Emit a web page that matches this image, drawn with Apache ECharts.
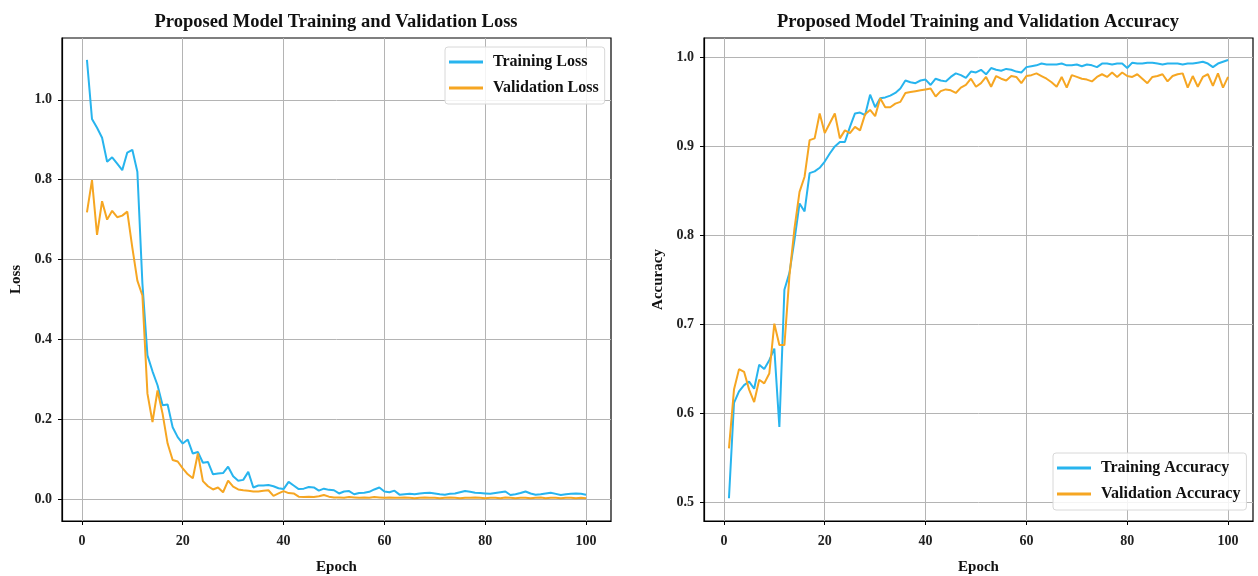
<!DOCTYPE html>
<html>
<head>
<meta charset="utf-8">
<script src="https://cdn.jsdelivr.net/npm/echarts@6/dist/echarts.min.js"></script>
<style>
  html, body { margin: 0; padding: 0; background: #fff; }
  #chart { width: 1258px; height: 576px; }
</style>
</head>
<body>
<div id="chart"></div>
<script>
// values
const epochs = Array.from({ length: 100 }, (_, i) => i + 1)

const trainLoss = [
  1.10, 0.952, 0.93, 0.905, 0.845, 0.856, 0.84, 0.824, 0.868, 0.875,
  0.82, 0.54, 0.36, 0.32, 0.285, 0.235, 0.237, 0.18, 0.155, 0.139,
  0.149, 0.114, 0.118, 0.091, 0.093, 0.062, 0.064, 0.065, 0.081, 0.057,
  0.046, 0.048, 0.068, 0.029, 0.034, 0.034, 0.035, 0.032, 0.027, 0.025,
  0.043, 0.034, 0.025, 0.026, 0.030, 0.029, 0.021, 0.026, 0.023, 0.022,
  0.014, 0.019, 0.020, 0.012, 0.015, 0.016, 0.018, 0.024, 0.029, 0.019,
  0.017, 0.021, 0.011, 0.012, 0.013, 0.012, 0.014, 0.015, 0.016, 0.014,
  0.012, 0.011, 0.013, 0.014, 0.017, 0.020, 0.018, 0.016, 0.015, 0.014,
  0.013, 0.015, 0.017, 0.019, 0.010, 0.012, 0.015, 0.019, 0.014, 0.011,
  0.012, 0.014, 0.016, 0.013, 0.010, 0.012, 0.013, 0.014, 0.013, 0.011
]

const valLoss = [
  0.718, 0.799, 0.662, 0.746, 0.700, 0.722, 0.706, 0.710, 0.720, 0.63,
  0.547, 0.51, 0.264, 0.193, 0.272, 0.214, 0.139, 0.098, 0.094, 0.077,
  0.062, 0.052, 0.114, 0.045, 0.032, 0.024, 0.029, 0.017, 0.046, 0.031,
  0.024, 0.022, 0.021, 0.019, 0.019, 0.021, 0.022, 0.008, 0.014, 0.020,
  0.015, 0.014, 0.006, 0.005, 0.006, 0.005, 0.007, 0.010, 0.006, 0.004,
  0.004, 0.003, 0.005, 0.004, 0.003, 0.004, 0.003, 0.005, 0.004, 0.003,
  0.004, 0.003, 0.003, 0.004, 0.003, 0.002, 0.003, 0.004, 0.003, 0.003,
  0.002, 0.003, 0.004, 0.003, 0.002, 0.003, 0.003, 0.004, 0.003, 0.002,
  0.003, 0.003, 0.002, 0.004, 0.003, 0.002, 0.003, 0.003, 0.002, 0.003,
  0.004, 0.002, 0.003, 0.003, 0.002, 0.003, 0.003, 0.002, 0.003, 0.002
]

const trainAcc = [
  0.505, 0.612, 0.625, 0.632, 0.636, 0.628, 0.655, 0.650, 0.660, 0.673,
  0.585, 0.739, 0.758, 0.795, 0.836, 0.827, 0.870, 0.872, 0.876, 0.883,
  0.892, 0.900, 0.905, 0.905, 0.922, 0.937, 0.938, 0.935, 0.958, 0.944,
  0.954, 0.955, 0.957, 0.960, 0.965, 0.974, 0.972, 0.971, 0.974, 0.975,
  0.969, 0.976, 0.974, 0.973, 0.978, 0.982, 0.980, 0.977, 0.984, 0.983,
  0.986, 0.981, 0.988, 0.986, 0.985, 0.987, 0.986, 0.984, 0.983, 0.989,
  0.990, 0.991, 0.993, 0.992, 0.992, 0.992, 0.993, 0.991, 0.991, 0.992,
  0.990, 0.992, 0.991, 0.989, 0.993, 0.993, 0.992, 0.993, 0.993, 0.988,
  0.994, 0.993, 0.993, 0.994, 0.994, 0.993, 0.992, 0.993, 0.993, 0.993,
  0.992, 0.993, 0.993, 0.994, 0.995, 0.993, 0.989, 0.993, 0.995, 0.997
]

const valAcc = [
  0.561, 0.627, 0.650, 0.647, 0.627, 0.613, 0.638, 0.634, 0.645, 0.701,
  0.677, 0.677, 0.755, 0.808, 0.849, 0.866, 0.907, 0.909, 0.937, 0.915,
  0.926, 0.937, 0.909, 0.918, 0.915, 0.922, 0.918, 0.936, 0.941, 0.934,
  0.954, 0.944, 0.944, 0.948, 0.950, 0.960, 0.961, 0.962, 0.963, 0.964,
  0.965, 0.956, 0.962, 0.964, 0.963, 0.960, 0.966, 0.969, 0.976, 0.967,
  0.971, 0.978, 0.967, 0.979, 0.976, 0.974, 0.979, 0.978, 0.971, 0.979,
  0.980, 0.982, 0.979, 0.976, 0.972, 0.967, 0.978, 0.966, 0.980, 0.978,
  0.976, 0.975, 0.973, 0.978, 0.981, 0.978, 0.983, 0.978, 0.983, 0.979,
  0.978, 0.981, 0.976, 0.971, 0.978, 0.979, 0.981, 0.973, 0.979, 0.981,
  0.982, 0.966, 0.979, 0.967, 0.978, 0.981, 0.968, 0.982, 0.966, 0.978
]

const xTicks = [0, 20, 40, 60, 80, 100]
const lossTicks = [0, 0.2, 0.4, 0.6, 0.8, 1.0]
const accTicks = [0.5, 0.6, 0.7, 0.8, 0.9, 1.0]

const BLUE = '#27b4ee'
const ORANGE = '#f6a622'
const FONT = '"Liberation Serif", "DejaVu Serif", serif'

const pairs = (ys) => epochs.map((x, i) => [x, ys[i]])

const xAxisFor = (gridIndex) => ({
  type: 'value',
  gridIndex,
  min: -3.95,
  max: 104.95,
  name: 'Epoch',
  nameLocation: 'middle',
  nameGap: 39,
  nameTextStyle: { fontFamily: FONT, fontWeight: 'bold', fontSize: 15, color: '#111' },
  axisLine: { show: true, onZero: false, lineStyle: { color: '#000', width: 1.2 } },
  axisTick: { show: true, length: 4, customValues: xTicks, lineStyle: { color: '#000' } },
  axisLabel: {
    customValues: xTicks, margin: 13,
    fontFamily: FONT, fontWeight: 'bold', fontSize: 14, color: '#222'
  },
  splitLine: { show: true, lineStyle: { color: '#b4b4b4', width: 1 } }
})

const yAxisFor = (gridIndex, name, min, max, ticks) => ({
  type: 'value',
  gridIndex,
  min,
  max,
  name,
  nameLocation: 'middle',
  nameGap: 38,
  nameTextStyle: { fontFamily: FONT, fontWeight: 'bold', fontSize: 15, color: '#111' },
  axisLine: { show: true, onZero: false, lineStyle: { color: '#000', width: 1.2 } },
  axisTick: { show: true, length: 4, customValues: ticks, lineStyle: { color: '#000' } },
  axisLabel: {
    customValues: ticks, margin: 10,
    formatter: (v) => v.toFixed(1),
    fontFamily: FONT, fontWeight: 'bold', fontSize: 14, color: '#222'
  },
  splitLine: { show: true, lineStyle: { color: '#b4b4b4', width: 1 } }
})

const lineSeries = (name, data, color, axisIndex) => ({
  name,
  type: 'line',
  xAxisIndex: axisIndex,
  yAxisIndex: axisIndex,
  data: pairs(data),
  showSymbol: false,
  symbol: 'none',
  lineStyle: { color, width: 2 },
  itemStyle: { color },
  animation: false
})

const legendFor = (left, top, names) => ({
  data: names,
  orient: 'vertical',
  left,
  top,
  itemWidth: 34,
  itemHeight: 3,
  itemGap: 8,
  icon: 'rect',
  padding: [6, 6, 7, 4],
  backgroundColor: 'rgba(255,255,255,0.85)',
  borderColor: '#d8d8d8',
  borderWidth: 1,
  borderRadius: 3,
  textStyle: {
    fontFamily: FONT, fontWeight: 'bold', fontSize: 16, color: '#111',
    lineHeight: 18, padding: [0, 0, 0, 5]
  }
})

const titleText = (x, text) => ({
  type: 'text',
  x,
  y: 22,
  style: {
    text,
    textAlign: 'center',
    textVerticalAlign: 'middle',
    fontFamily: FONT,
    fontWeight: 'bold',
    fontSize: 18.5,
    fill: '#111'
  }
})

const gridFor = (left) => ({
  left,
  top: 38,
  width: 549,
  height: 483,
  containLabel: false,
  outerBoundsMode: 'none',
  show: true,
  borderColor: '#000',
  borderWidth: 1.2
})

const chart = echarts.init(document.getElementById('chart'))
chart.setOption({
  animation: false,
  backgroundColor: '#fff',
  grid: [gridFor(62), gridFor(704)],
  xAxis: [xAxisFor(0), xAxisFor(1)],
  yAxis: [
    yAxisFor(0, 'Loss', -0.055, 1.155, lossTicks),
    yAxisFor(1, 'Accuracy', 0.4795, 1.0217, accTicks)
  ],
  legend: [
    legendFor(445, 47, ['Training Loss', 'Validation Loss']),
    legendFor(1053, 453, ['Training Accuracy', 'Validation Accuracy'])
  ],
  graphic: [
    titleText(336, 'Proposed Model Training and Validation Loss'),
    titleText(978, 'Proposed Model Training and Validation Accuracy')
  ],
  series: [
    lineSeries('Training Loss', trainLoss, BLUE, 0),
    lineSeries('Validation Loss', valLoss, ORANGE, 0),
    lineSeries('Training Accuracy', trainAcc, BLUE, 1),
    lineSeries('Validation Accuracy', valAcc, ORANGE, 1)
  ]
})
</script>
</body>
</html>
